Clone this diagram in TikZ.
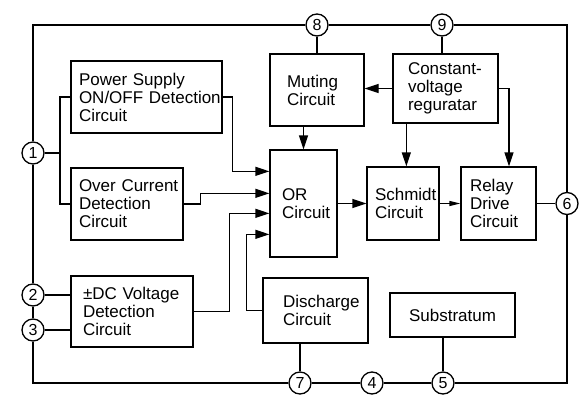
\documentclass[tikz,border=0pt]{standalone}
\usepackage{fontspec}
\setmainfont{Liberation Sans}
\usetikzlibrary{arrows.meta,calc}
\begin{document}
\begin{tikzpicture}[x=1pt,y=-1pt,
  ln/.style={line width=1.3pt},
  arr/.style={ln,-{Triangle[length=14pt,width=9pt]}},
  sarr/.style={ln,-{Triangle[length=11pt,width=5pt]}},
  box/.style={draw,ln,align=left,font=\fontsize{17}{18}\selectfont,minimum height=#1,inner ysep=0pt},
  pin/.style={draw,ln,circle,minimum size=22pt,inner sep=0pt,font=\fontsize{16}{16}\selectfont},
]
\useasboundingbox (0,0) rectangle (588,404);

% boxes
\node[box=72pt,text width=135pt,inner xsep=8pt] (ps) at (146.5,97) {\mbox{Power Supply}\\\mbox{ON/OFF Detection}\\\mbox{Circuit}};
\node[box=72pt,text width=96pt,inner xsep=8pt] (oc) at (127,204) {\mbox{Over Current}\\\mbox{Detection}\\\mbox{Circuit}};
\node[box=71pt,text width=98pt,inner xsep=12pt] (dc) at (132,311.5) {\mbox{±DC Voltage}\\\mbox{Detection}\\\mbox{Circuit}};
\node[box=72pt,text width=60pt,inner xsep=17pt] (mut) at (317,90) {\mbox{Muting}\\\mbox{Circuit}};
\node[box=69pt,text width=75pt,inner xsep=15pt] (cv) at (445.5,88.5) {\mbox{Constant-}\\\mbox{voltage}\\\mbox{reguratar}};
\node[box=107pt,text width=43pt,inner xsep=12pt] (orc) at (303.5,203.5) {\mbox{OR}\\\mbox{Circuit}};
\node[box=73pt,text width=56pt,inner xsep=8pt] (sch) at (403,203.5) {\mbox{Schmidt}\\\mbox{Circuit}};
\node[box=73pt,text width=57pt,inner xsep=9pt] (rel) at (498.5,203.5) {\mbox{Relay}\\\mbox{Drive}\\\mbox{Circuit}};
\node[box=65pt,text width=65pt,inner xsep=20pt] (dis) at (315.5,310.5) {\mbox{Discharge}\\\mbox{Circuit}};
\node[box=44pt,align=center,minimum width=125pt,inner xsep=0pt] (sub) at (452.5,315) {Substratum};

% pins
\node[pin] (c1) at (33,153) {1};
\node[pin] (c2) at (33,295) {2};
\node[pin] (c3) at (33,330) {3};
\node[pin] (c8) at (317,25) {8};
\node[pin] (c9) at (442,25) {9};
\node[pin] (c6) at (567,203.5) {6};
\node[pin] (c7) at (300,383) {7};
\node[pin] (c4) at (372,383) {4};
\node[pin] (c5) at (443,383) {5};

% frame
\coordinate (tl) at (33,25);
\coordinate (tr) at (567,25);
\coordinate (br) at (567,383);
\coordinate (bl) at (33,383);
\draw[ln] (c1) -- (tl) -- (c8);
\draw[ln] (c8) -- (c9);
\draw[ln] (c9) -- (tr) -- (c6);
\draw[ln] (c6) -- (br) -- (c5);
\draw[ln] (c5) -- (c4);
\draw[ln] (c4) -- (c7);
\draw[ln] (c7) -- (bl) -- (c3);
\draw[ln] (c3) -- (c2);
\draw[ln] (c2) -- (c1);

% input bus
\coordinate (b1) at (60,153);
\draw[ln] (c1) -- (b1);
\draw[ln] (ps.west) -| (b1) |- (oc.west);
\draw[ln] (c2) -- (c2 -| dc.west);
\draw[ln] (c3) -- (c3 -| dc.west);

% into OR
\coordinate (o1) at ($(orc.north west)+(0,22)$);
\coordinate (o2) at ($(orc.north west)+(0,44)$);
\coordinate (o3) at ($(orc.north west)+(0,64)$);
\coordinate (o4) at ($(orc.north west)+(0,85)$);
\draw[arr] (ps.east) -- ++(10,0) |- (o1);
\draw[arr] (oc.east) -- ++(17,0) |- (o2);
\draw[arr] (dc.east) -- ++(36,0) |- (o3);
\draw[arr] (dis.west) -- ++(-16,0) |- (o4);
\draw[arr] (mut.south -| orc.north) -- (orc.north);

% regulator
\draw[arr] (cv.west) -- (cv.west -| mut.east);
\coordinate (cvs) at ($(cv.south west)+(14,0)$);
\draw[arr] (cvs) -- (cvs |- sch.north);
\draw[arr] (cv.east) -| ($(rel.north)+(10.5,0)$);

% chain
\draw[arr] (orc.east) -- (sch.west);
\draw[sarr] (sch.east) -- (rel.west);
\draw[ln] (rel.east) -- (c6);

% pins to boxes
\draw[ln] (c8) -- (mut.north);
\draw[ln] (c9) -- (c9 |- cv.north);
\draw[ln] (c7 |- dis.south) -- (c7);
\draw[ln] (c5 |- sub.south) -- (c5);
\end{tikzpicture}
\end{document}
